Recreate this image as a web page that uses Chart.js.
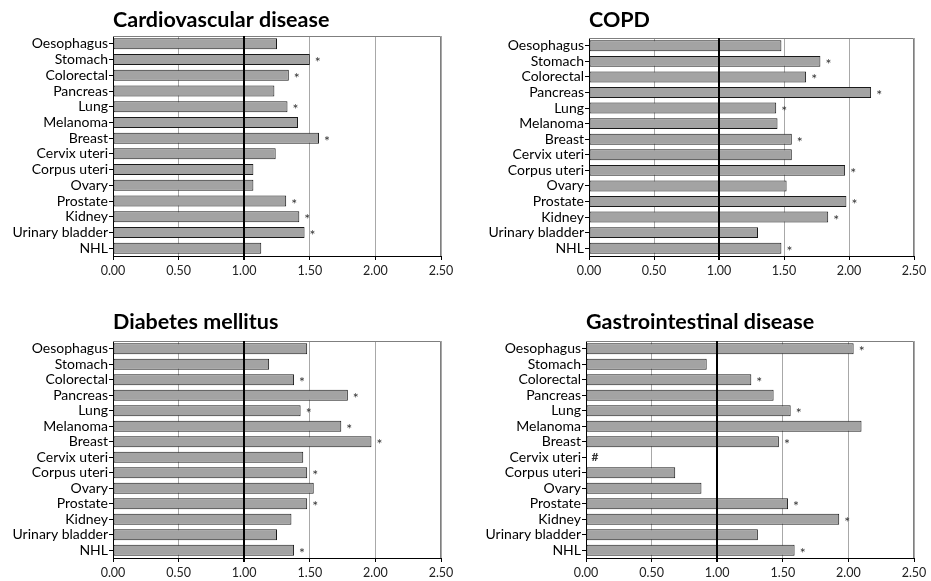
<!DOCTYPE html>
<html>
<head>
<meta charset="utf-8">
<script src="https://cdn.jsdelivr.net/npm/chart.js@4/dist/chart.umd.min.js"></script>
<style>
  body { margin: 0; background: #fff; }
  #wrap { position: relative; width: 931px; height: 581px; }
  canvas { position: absolute; }
</style>
</head>
<body>
<div id="wrap">
  <canvas id="c1" width="465" height="290" style="left:0;top:0"></canvas>
  <canvas id="c2" width="466" height="290" style="left:465px;top:0"></canvas>
  <canvas id="c3" width="465" height="291" style="left:0;top:290px"></canvas>
  <canvas id="c4" width="466" height="291" style="left:465px;top:290px"></canvas>
</div>
<script>
const categories = ['Oesophagus', 'Stomach', 'Colorectal', 'Pancreas', 'Lung', 'Melanoma', 'Breast',
  'Cervix uteri', 'Corpus uteri', 'Ovary', 'Prostate', 'Kidney', 'Urinary bladder', 'NHL'];

const xTicks = [0, 0.5, 1, 1.5, 2, 2.5];

const cardioValues = [1.25, 1.50, 1.34, 1.23, 1.33, 1.41, 1.57, 1.24, 1.07, 1.07, 1.32, 1.42, 1.46, 1.13];
const cardioMarks  = ['', '*', '*', '', '*', '', '*', '', '', '', '*', '*', '*', ''];

const copdValues = [1.48, 1.78, 1.67, 2.17, 1.44, 1.45, 1.56, 1.56, 1.97, 1.52, 1.98, 1.84, 1.30, 1.48];
const copdMarks  = ['', '*', '*', '*', '*', '', '*', '', '*', '', '*', '*', '', '*'];

const diabetesValues = [1.48, 1.19, 1.38, 1.79, 1.43, 1.74, 1.97, 1.45, 1.48, 1.53, 1.48, 1.36, 1.25, 1.38];
const diabetesMarks  = ['', '', '*', '*', '*', '*', '*', '', '*', '', '*', '', '', '*'];

const giValues = [2.04, 0.92, 1.26, 1.43, 1.56, 2.10, 1.47, null, 0.68, 0.88, 1.54, 1.93, 1.31, 1.59];
const giMarks  = ['*', '', '*', '', '*', '', '*', '#', '', '', '*', '*', '', '*'];

const FONT = 'Lato, "Open Sans", sans-serif';

// draws the title, the 1.00 reference line over the bars, the box and the markers
const overlay = {
  id: 'overlay',
  afterDatasetsDraw(chart, args, opts) {
    const ctx = chart.ctx;
    const a = chart.chartArea;
    const x = chart.scales.x;
    const y = chart.scales.y;
    ctx.save();
    // frame top / right
    ctx.strokeStyle = '#7f7f7f';
    ctx.lineWidth = 1;
    ctx.beginPath();
    ctx.moveTo(a.left, a.top + 0.5);
    ctx.lineTo(a.right - 0.5, a.top + 0.5);
    ctx.lineTo(a.right - 0.5, a.bottom);
    ctx.stroke();
    // reference line at 1.00
    const x1 = Math.round(x.getPixelForValue(1));
    ctx.strokeStyle = '#000';
    ctx.lineWidth = 2;
    ctx.beginPath();
    ctx.moveTo(x1, a.top);
    ctx.lineTo(x1, a.bottom + 4);
    ctx.stroke();
    // markers
    ctx.fillStyle = '#333';
    ctx.textBaseline = 'middle';
    ctx.textAlign = 'center';
    const vals = chart.data.datasets[0].data;
    opts.marks.forEach((m, i) => {
      if (!m) return;
      const px = x.getPixelForValue(vals[i] == null ? 0 : vals[i]);
      const py = y.getPixelForValue(i);
      if (m === '#') {
        ctx.font = 'bold 12px ' + FONT;
        ctx.fillText(m, px + 9, py);
      } else {
        ctx.font = '14px ' + FONT;
        ctx.fillText(m, px + 8, py + 3);
      }
    });
    // title
    ctx.fillStyle = '#000';
    ctx.font = 'bold 21.5px ' + FONT;
    ctx.textAlign = 'left';
    ctx.textBaseline = 'alphabetic';
    ctx.fillText(opts.title, a.left, opts.titleY);
    ctx.restore();
  }
};

function makeChart(id, title, values, marks, box) {
  return new Chart(document.getElementById(id), {
    type: 'bar',
    data: {
      labels: categories,
      datasets: [{
        data: values,
        backgroundColor: '#a3a3a3',
        borderColor: '#1a1a1a',
        borderWidth: 1,
        borderSkipped: false,
        categoryPercentage: 1,
        barPercentage: 0.7
      }]
    },
    options: {
      indexAxis: 'y',
      responsive: false,
      animation: false,
      layout: { padding: { top: box.top, right: box.right, left: 0, bottom: 0 } },
      plugins: {
        legend: { display: false },
        tooltip: { enabled: false },
        overlay: { title: title, marks: marks, titleY: box.titleY }
      },
      scales: {
        x: {
          min: 0,
          max: 2.5,
          afterBuildTicks: s => { s.ticks = xTicks.map(v => ({ value: v })); },
          afterFit: s => { s.height = box.xh; },
          ticks: {
            color: '#222',
            font: { family: FONT, size: 12.5 },
            padding: 3,
            callback: v => Number(v).toFixed(2)
          },
          grid: {
            color: c => (c.tick && (c.tick.value === 0 || c.tick.value === 1)) ? 'rgba(0,0,0,0)' : '#a8a8a8',
            lineWidth: 1,
            tickColor: '#000',
            tickLength: 4
          },
          border: { color: '#000', width: 1 }
        },
        y: {
          afterFit: s => { s.width = box.left; },
          ticks: {
            autoSkip: false,
            color: '#000',
            font: { family: FONT, size: 14 },
            padding: 1
          },
          grid: {
            offset: false,
            drawOnChartArea: false,
            tickColor: '#000',
            tickLength: 4
          },
          border: { color: '#000', width: 1 }
        }
      }
    },
    plugins: [overlay]
  });
}

makeChart('c1', 'Cardiovascular disease', cardioValues, cardioMarks,
  { left: 113, right: 24, top: 36, xh: 34, titleY: 27 });
makeChart('c2', 'COPD', copdValues, copdMarks,
  { left: 124, right: 17, top: 38, xh: 34, titleY: 27 });
makeChart('c3', 'Diabetes mellitus', diabetesValues, diabetesMarks,
  { left: 113, right: 24, top: 51, xh: 23, titleY: 39 });
makeChart('c4', 'Gastrointestinal disease', giValues, giMarks,
  { left: 121, right: 17, top: 51, xh: 23, titleY: 39 });
</script>
</body>
</html>
